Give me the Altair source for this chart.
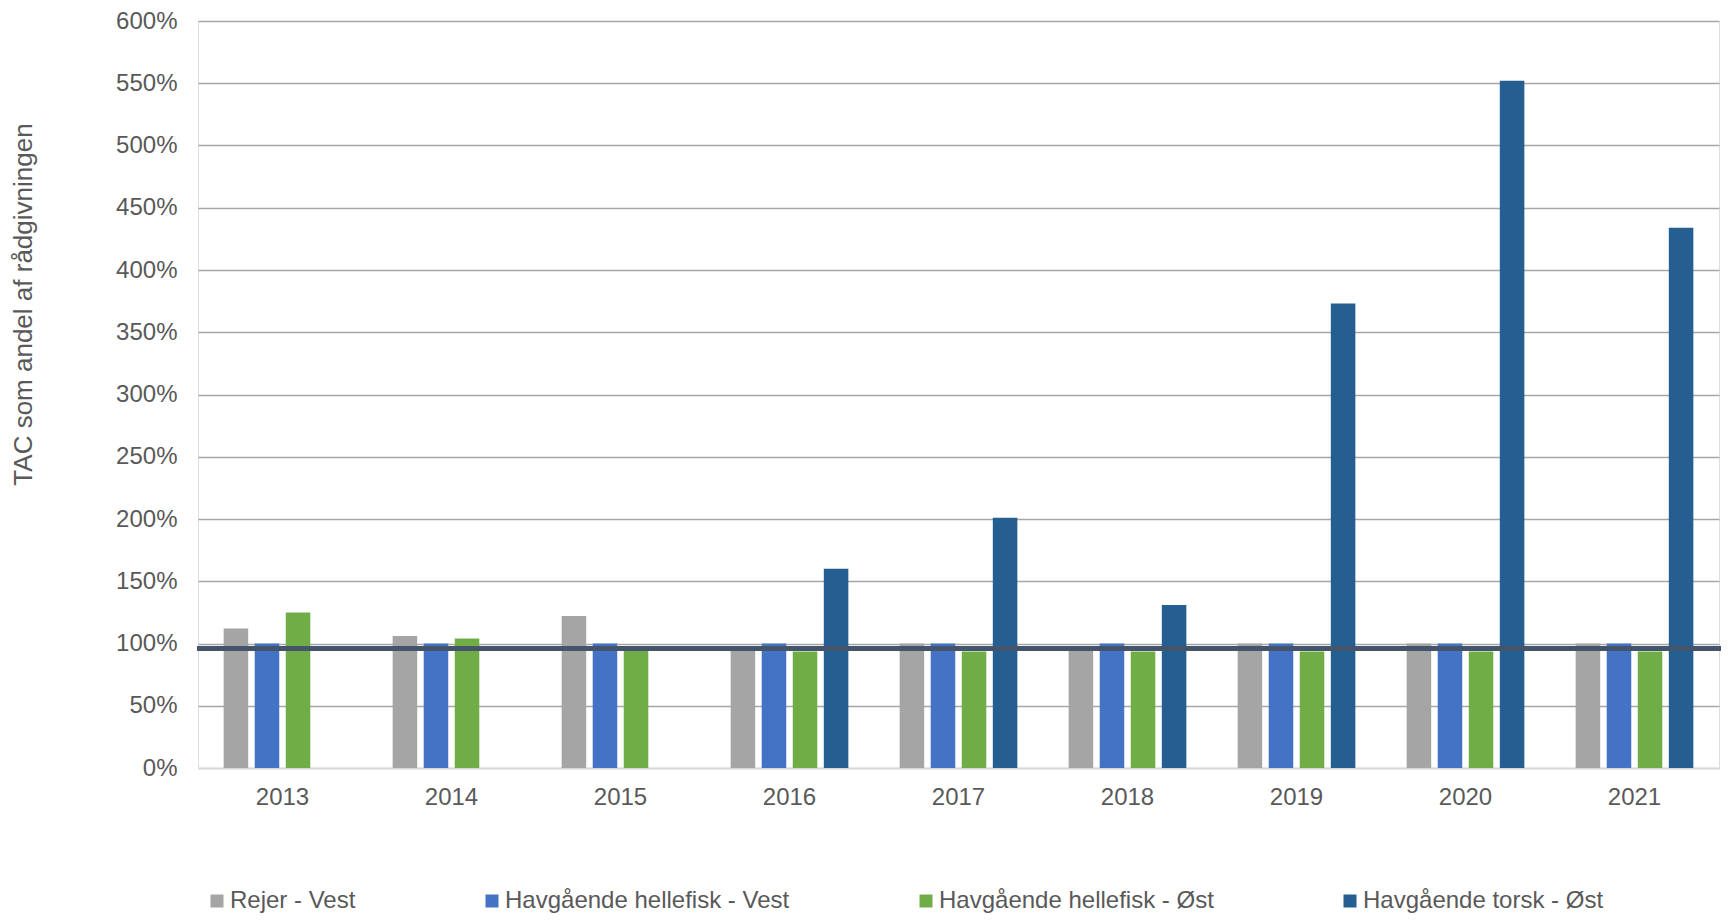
import altair as alt
import pandas as pd

years = ["2013", "2014", "2015", "2016", "2017", "2018", "2019", "2020", "2021"]
series = ["Rejer - Vest", "Havgående hellefisk - Vest", "Havgående hellefisk - Øst", "Havgående torsk - Øst"]
colors = ["#a5a5a5", "#4472c4", "#70ad47", "#255e91"]

rejer_vest = [1.12, 1.06, 1.22, 0.95, 1.00, 0.95, 1.00, 1.00, 1.00]
hellefisk_vest = [1.00, 1.00, 1.00, 1.00, 1.00, 1.00, 1.00, 1.00, 1.00]
hellefisk_ost = [1.25, 1.04, 0.95, 0.935, 0.935, 0.935, 0.935, 0.935, 0.935]
torsk_ost = [None, None, None, 1.60, 2.01, 1.31, 3.73, 5.52, 4.34]
reference_level = 0.96

rows = []
for name, vals in zip(series, [rejer_vest, hellefisk_vest, hellefisk_ost, torsk_ost]):
    for y, v in zip(years, vals):
        if v is not None:
            rows.append({"year": y, "series": name, "value": v})
df = pd.DataFrame(rows)

W, H = 1521, 747
FONT = "Liberation Sans"

bars = alt.Chart(df).mark_bar().encode(
    x=alt.X("year:N", sort=years,
            scale=alt.Scale(paddingInner=0.265, paddingOuter=0.1325),
            axis=alt.Axis(title=None, labelAngle=0, ticks=False, domain=True,
                          domainColor="#d9d9d9", domainWidth=2,
                          labelFontSize=24, labelColor="#595959", labelFont=FONT,
                          labelPadding=17)),
    xOffset=alt.XOffset("series:N", sort=series,
                        scale=alt.Scale(domain=series, paddingInner=0.21, paddingOuter=0.105)),
    y=alt.Y("value:Q",
            scale=alt.Scale(domain=[0, 6], nice=False),
            axis=alt.Axis(title="TAC som andel af rådgivningen", format=".0%",
                          values=[i * 0.5 for i in range(13)],
                          ticks=False, domain=False,
                          gridColor={"condition": {"test": "datum.value === 0", "value": "#d9d9d9"},
                                     "value": "#a6a6a6"},
                          gridWidth=1.6,
                          labelFontSize=24, labelColor="#595959", labelFont=FONT,
                          labelPadding=21,
                          titleFontSize=26, titleColor="#595959", titleFont=FONT,
                          titleFontWeight="normal", titleX=-175, titleY=283,
                          titleAngle=270, titleBaseline="middle", titleAlign="center")),
    color=alt.Color("series:N", sort=series,
                    scale=alt.Scale(domain=series, range=colors),
                    legend=alt.Legend(title=None, orient="none", direction="horizontal",
                                      legendX=7, legendY=868, columns=4,
                                      columnPadding=124, symbolType="square",
                                      symbolSize=169, symbolStrokeWidth=0,
                                      labelFontSize=24, labelColor="#595959",
                                      labelFont=FONT, labelOffset=1, labelLimit=0,
                                      padding=0)),
)

rule = alt.Chart(pd.DataFrame({"v": [reference_level]})).mark_rule(
    color="#44546a", strokeWidth=5, clip=False
).encode(
    y="v:Q",
    x=alt.value(-1),
    x2=alt.value(W + 3),
)

chart = alt.layer(bars, rule).properties(
    width=W, height=H,
    autosize=alt.AutoSizeParams(type="none"),
    padding={"left": 190, "top": 13, "right": 2, "bottom": 146},
).configure_view(stroke=None).configure(background="white")

chart.save("out.html", embed_options={"renderer": "svg", "actions": False})
